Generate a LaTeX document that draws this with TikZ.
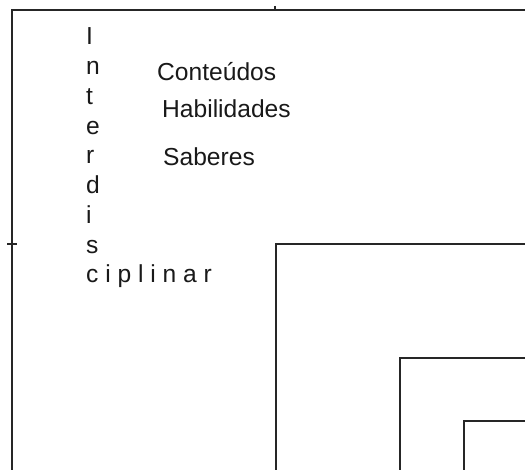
\documentclass[tikz,border=0pt]{standalone}
\usepackage{fontspec}
\setmainfont{Liberation Sans}
\usetikzlibrary{positioning}

\begin{document}
\begin{tikzpicture}[
    x=1pt, y=-1pt,
    every node/.style={font=\fontsize{24.6}{28}\selectfont, inner sep=0pt, anchor=base west},
    letter/.style={text=black!90},
    label/.style={text=black!90},
    frame/.style={line width=2pt, draw=black!85},
    tick/.style={line width=1.8pt, draw=black!85}
]
    \useasboundingbox (0,0) rectangle (525,470);
    \clip (0,0) rectangle (525,470);

    % Nested frames, cut off at the right and bottom
    \draw [frame] (12,490) |- (545,10);
    \draw [frame] (276,490) |- (545,244);
    \draw [frame] (400,490) |- (545,358);
    \draw [frame] (464,490) |- (545,421);

    % Small ticks on the outer frame
    \draw [tick] (275,6) -- (275,10);
    \draw [tick] (7,244) -- (17,244);

    % Vertical word
    \node (l1) [letter] at (86,45) {I};
    \node (l2) [letter] at (86,74.75) {n};
    \node (l3) [letter] at (86,104.5) {t};
    \node (l4) [letter] at (86,134.25) {e};
    \node (l5) [letter] at (86,164) {r};
    \node (l6) [letter] at (86,193.75) {d};
    \node (l7) [letter] at (86,223.5) {i};
    \node (l8) [letter] at (86,253.25) {s};
    \node (rest) [letter] at (86,283) {c i p l i n a r};

    % Labels
    \node (cont) [label] at (157,81) {Conteúdos};
    \node (hab) [label] at (162,118) {Habilidades};
    \node (sab) [label] at (163,166) {Saberes};

\end{tikzpicture}
\end{document}
